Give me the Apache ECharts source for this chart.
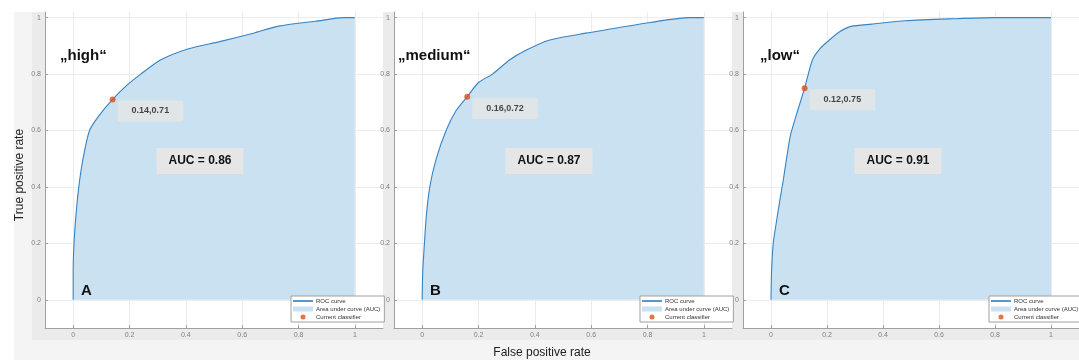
<!DOCTYPE html>
<html><head><meta charset="utf-8">
<script src="https://cdn.jsdelivr.net/npm/echarts@6/dist/echarts.min.js"></script>
<style>html,body{margin:0;padding:0;background:#fff}#c{width:1079px;height:360px}</style>
</head><body><div id="c"></div>
<script>
// ---- data ----
const panelTitles = ['„high“', '„medium“', '„low“'];
const panelLetters = ['A', 'B', 'C'];
const aucValues = ['0.86', '0.87', '0.91'];
const rocHigh = [[0,0],[0,0.1],[0.003,0.2],[0.01,0.3],[0.02,0.4],[0.035,0.5],[0.058,0.6],[0.09,0.65],[0.14,0.71],[0.19,0.76],[0.24,0.8],[0.31,0.85],[0.41,0.89],[0.52,0.915],[0.64,0.945],[0.73,0.97],[0.86,0.987],[0.96,1],[1,1]];
const rocMedium = [[0,0],[0.002,0.1],[0.008,0.2],[0.015,0.3],[0.027,0.4],[0.05,0.5],[0.085,0.6],[0.12,0.67],[0.16,0.72],[0.2,0.77],[0.25,0.8],[0.31,0.85],[0.37,0.885],[0.45,0.92],[0.58,0.945],[0.69,0.963],[0.81,0.983],[0.95,1],[1,1]];
const rocLow = [[0,0],[0.002,0.1],[0.008,0.2],[0.02,0.28],[0.032,0.355],[0.044,0.425],[0.057,0.51],[0.07,0.585],[0.095,0.67],[0.12,0.75],[0.148,0.85],[0.175,0.89],[0.203,0.916],[0.245,0.95],[0.286,0.969],[0.36,0.977],[0.48,0.989],[0.65,0.996],[0.8,1],[1,1]];
const classifierPoints = [[0.14,0.71],[0.16,0.72],[0.12,0.75]];
const tickValues = [0, 0.2, 0.4, 0.6, 0.8, 1];
const legendNames = ['ROC curve', 'Area under curve (AUC)', 'Current classifier'];
const axisTitles = ['True positive rate', 'False positive rate'];

// ---- layout / style ----
const rocSets = [rocHigh, rocMedium, rocLow];
const panelLeft = [45, 394, 743];
const gridTop = 12, gridW = 338, gridH = 316;
const titleX = [60, 398, 760];
const lineColor = '#3584c6';
const fillColor = '#c9e1f1';
const dotColor = '#d95319';
const FONT = 'Liberation Sans, Arial, sans-serif';

const grids = [], xAxes = [], yAxes = [], series = [], legends = [], graphics = [];
graphics.push({type:'rect', z:-5, silent:true, shape:{x:14, y:12, width:1079-14, height:348}, style:{fill:'#f4f4f4'}});

for (let i = 0; i < 3; i++) {
  const L = panelLeft[i];
  graphics.push({type:'rect', z:-4, silent:true, shape:{x:L-13, y:gridTop, width:gridW+13, height:gridH+12}, style:{fill:'#ebebeb'}});
  grids.push({left:L, top:gridTop, width:gridW, height:gridH, show:true, backgroundColor:'#ffffff', borderWidth:0, containLabel:false});
  const axisCommon = {
    gridIndex:i, type:'value',
    axisLine:{show:true, onZero:false, lineStyle:{color:'#a0a0a0', width:1}},
    axisTick:{show:true, inside:true, length:3, customValues:tickValues, lineStyle:{color:'#a0a0a0'}},
    axisLabel:{customValues:tickValues, fontSize:7, color:'#808080', fontFamily:FONT, margin:4},
    splitLine:{show:true, lineStyle:{color:'#ececec', width:1}}
  };
  xAxes.push(Object.assign({}, axisCommon, {min:-0.1, max:1.1}));
  yAxes.push(Object.assign({}, axisCommon, {min:-0.1, max:1.02}));
  const data = rocSets[i];
  series.push({type:'line', name:legendNames[1], xAxisIndex:i, yAxisIndex:i, data:data, symbol:'none', silent:true,
    smooth:0.25,
    lineStyle:{width:0, color:fillColor}, itemStyle:{color:fillColor}, areaStyle:{color:fillColor, opacity:1, origin:'auto'}, z:1, animation:false});
  series.push({type:'line', name:legendNames[0], xAxisIndex:i, yAxisIndex:i, data:data, symbol:'none', silent:true,
    smooth:0.25,
    lineStyle:{width:1.1, color:lineColor}, itemStyle:{color:lineColor}, z:2, animation:false});
  series.push({type:'scatter', name:legendNames[2], xAxisIndex:i, yAxisIndex:i, data:[classifierPoints[i]], symbolSize:6,
    itemStyle:{color:dotColor}, z:3, animation:false,
    label:{show:true, position:[8,4], align:'left', verticalAlign:'top',
      formatter: p => p.value[0].toFixed(2) + ',' + p.value[1].toFixed(2),
      backgroundColor:'#e6e6e6', padding:[6,14,6,14], fontSize:9, fontWeight:'bold', color:'#1a1a1a', fontFamily:FONT}});
  legends.push({orient:'vertical', left:L+246, top:296, itemWidth:20, itemHeight:5, itemGap:2,
    padding:[2,4,2,2], backgroundColor:'#ffffff', borderColor:'#a0a0a0', borderWidth:1, borderRadius:0,
    textStyle:{fontSize:6, color:'#333', fontFamily:FONT, padding:[0,0,0,-2]}, selectedMode:false,
    data:[{name:legendNames[0], icon:'path://M0,0H24V2H0Z', itemStyle:{color:lineColor}},
          {name:legendNames[1], icon:'rect'}, {name:legendNames[2], icon:'circle'}]});
  // panel texts
  graphics.push({type:'text', z:100, silent:true, style:{text:panelTitles[i], x:titleX[i], y:56, align:'left', verticalAlign:'middle',
    fontSize:15, fontWeight:'bold', fontFamily:FONT, fill:'#111'}});
  graphics.push({type:'text', z:100, silent:true, style:{text:panelLetters[i], x:L+36, y:291, align:'left', verticalAlign:'middle',
    fontSize:15, fontWeight:'bold', fontFamily:FONT, fill:'#111'}});
  graphics.push({type:'text', z:100, silent:true, style:{text:'AUC = ' + aucValues[i], x:L+155, y:161, align:'center', verticalAlign:'middle',
    fontSize:12, fontWeight:'bold', fontFamily:FONT, fill:'#111', backgroundColor:'#e6e6e6', padding:[7,12,7,12]}});
}
graphics.push({type:'text', z:100, silent:true, rotation:Math.PI/2, x:20, y:175, style:{text:axisTitles[0], x:0, y:0, align:'center', verticalAlign:'middle',
  fontSize:12, fontFamily:FONT, fill:'#222'}});
graphics.push({type:'text', z:100, silent:true, style:{text:axisTitles[1], x:542, y:353, align:'center', verticalAlign:'middle',
  fontSize:12, fontFamily:FONT, fill:'#222'}});

const chart = echarts.init(document.getElementById('c'), null, {renderer:'canvas'});
chart.setOption({animation:false, grid:grids, xAxis:xAxes, yAxis:yAxes, series:series, legend:legends, graphic:graphics});
</script></body></html>
